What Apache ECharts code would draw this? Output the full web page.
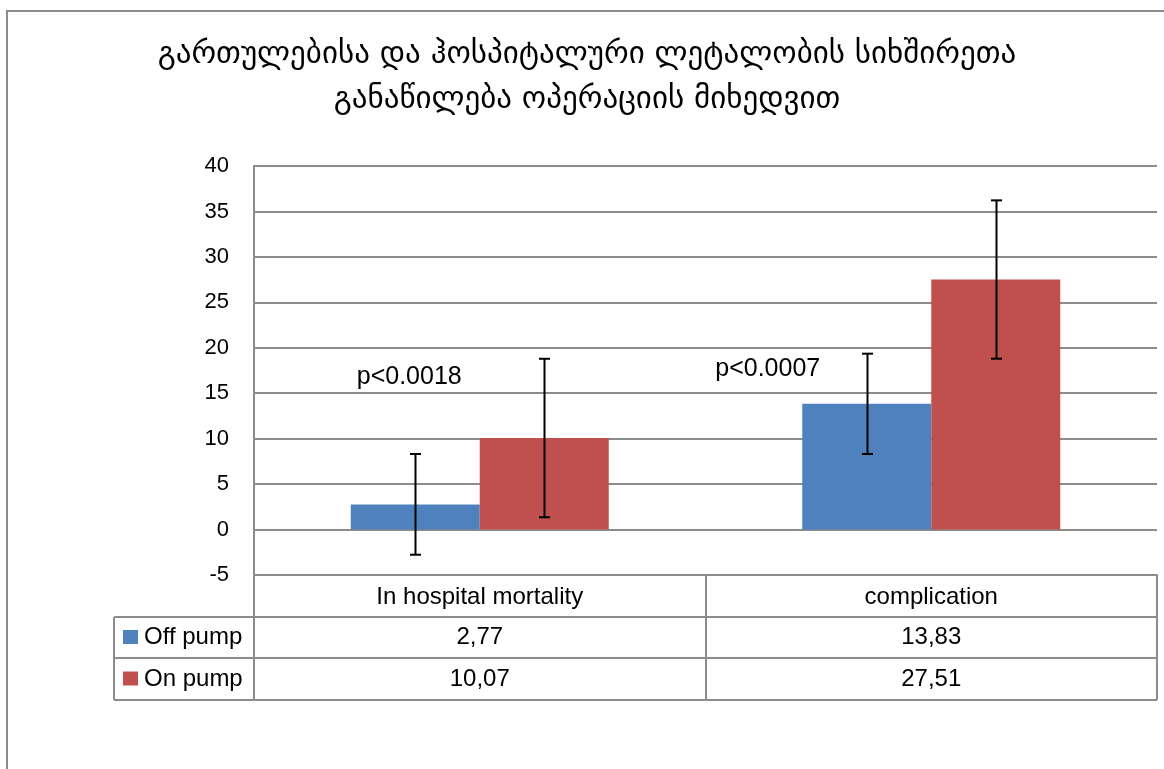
<!DOCTYPE html>
<html><head><meta charset="utf-8">
<script src="https://cdn.jsdelivr.net/npm/echarts@6/dist/echarts.min.js"></script>
<style>html,body{margin:0;padding:0;background:#fff}#c{width:1164px;height:769px}</style>
</head><body><div id="c"></div>
<script>
// ---- data ----
const titleLines = ['გართულებისა და ჰოსპიტალური ლეტალობის სიხშირეთა', 'განაწილება ოპერაციის მიხედვით'];
const categories = ['In hospital mortality', 'complication'];
const seriesNames = ['Off pump', 'On pump'];
const offPump = [2.77, 13.83];
const onPump = [10.07, 27.51];
const offPumpErr = [5.54, 5.52];
const onPumpErr = [8.72, 8.71];
const pValues = ['p<0.0018', 'p<0.0007'];
const yMin = -5, yMax = 40, yInterval = 5;

// ---- style / layout ----
const colors = ['#4F81BD', '#C0504D'];
const gridColor = '#8c8c8c';
const FONT = '"Liberation Sans", Arial, sans-serif';
const GAP = 0.4286;
const G = {left: 254, top: 166, right: 1157, bottom: 575};
const rowY = [575, 617, 658, 700];
const legendLeft = 114;

const chart = echarts.init(document.getElementById('c'));

function errRender(sign) {
  return function (params, api) {
    const cat = api.value(0), v = api.value(1), e = api.value(2);
    const band = api.size([1, 0])[0];
    const bw = band * (1 - GAP) / 2;
    const top = api.coord([cat, v + e]);
    const bot = api.coord([cat, v - e]);
    const x = Math.round(top[0] + sign * bw / 2) + 0.5;
    const cap = 5.5;
    const st = {stroke: '#000', lineWidth: 2};
    return {type: 'group', children: [
      {type: 'line', shape: {x1: x, y1: top[1], x2: x, y2: bot[1]}, style: st},
      {type: 'line', shape: {x1: x - cap, y1: top[1], x2: x + cap, y2: top[1]}, style: st},
      {type: 'line', shape: {x1: x - cap, y1: bot[1], x2: x + cap, y2: bot[1]}, style: st}
    ]};
  };
}

const option = {
  animation: false,
  backgroundColor: '#fff',
  grid: {left: G.left, top: G.top, width: G.right - G.left, height: G.bottom - G.top, containLabel: false},
  xAxis: {
    type: 'category', data: categories, position: 'bottom',
    axisLine: {show: true, onZero: false, lineStyle: {color: gridColor, width: 2}},
    axisTick: {show: true, length: rowY[3] - rowY[0], lineStyle: {color: gridColor, width: 2}},
    axisLabel: {fontFamily: FONT, fontSize: 24, color: '#000', margin: 10},
    splitLine: {show: false}
  },
  yAxis: {
    type: 'value', min: yMin, max: yMax, interval: yInterval,
    axisLine: {show: true, lineStyle: {color: gridColor, width: 2}},
    axisTick: {show: false},
    axisLabel: {fontFamily: FONT, fontSize: 22, color: '#000', margin: 25},
    splitLine: {show: true, lineStyle: {color: gridColor, width: 2}}
  },
  series: [
    {name: seriesNames[0], type: 'bar', data: offPump, barGap: '0%', barCategoryGap: (GAP * 100) + '%', itemStyle: {color: colors[0]}, z: 2},
    {name: seriesNames[1], type: 'bar', data: onPump, barGap: '0%', barCategoryGap: (GAP * 100) + '%', itemStyle: {color: colors[1]}, z: 2},
    {type: 'custom', renderItem: errRender(-1), data: offPump.map((v, i) => [i, v, offPumpErr[i]]), encode: {x: 0, y: 1}, z: 5, clip: false},
    {type: 'custom', renderItem: errRender(1), data: onPump.map((v, i) => [i, v, onPumpErr[i]]), encode: {x: 0, y: 1}, z: 5, clip: false}
  ]
};
chart.setOption(option);

// ---- graphics: title, table, annotations ----
const fmt = v => v.toFixed(2).replace('.', ',');
const graphics = [];
const lineSt = {stroke: gridColor, lineWidth: 2};
// outer chart frame
graphics.push({type: 'rect', shape: {x: 7, y: 11, width: 1300, height: 900}, style: {fill: null, stroke: '#8c8c8c', lineWidth: 2}, z: 0, silent: true});
// title
titleLines.forEach((t, i) => {
  graphics.push({type: 'text', x: 587, y: 55 + i * 45, style: {text: t, font: '31px "DejaVu Sans", "Noto Sans", sans-serif', fill: '#000', textAlign: 'center', textVerticalAlign: 'middle'}, z: 10});
});
// table lines
[rowY[1], rowY[2], rowY[3]].forEach(y => {
  graphics.push({type: 'line', shape: {x1: legendLeft, y1: y, x2: G.right, y2: y}, style: lineSt, z: 10});
});
graphics.push({type: 'line', shape: {x1: legendLeft, y1: rowY[1], x2: legendLeft, y2: rowY[3]}, style: lineSt, z: 10});
graphics.push({type: 'line', shape: {x1: G.right, y1: rowY[0], x2: G.right, y2: rowY[3]}, style: lineSt, z: 10});
// legend keys + values
const seriesVals = [offPump, onPump];
seriesNames.forEach((name, s) => {
  const cy = (rowY[s + 1] + rowY[s + 2]) / 2;
  graphics.push({type: 'rect', shape: {x: 123, y: cy - 7.5, width: 15, height: 14}, style: {fill: colors[s]}, z: 10});
  graphics.push({type: 'text', x: 144, y: cy, style: {text: name, font: '24px ' + FONT, fill: '#000', textVerticalAlign: 'middle'}, z: 10});
  seriesVals[s].forEach((v, i) => {
    const px = chart.convertToPixel({gridIndex: 0}, [i, 0])[0];
    graphics.push({type: 'text', x: px, y: cy, style: {text: fmt(v), font: '24px ' + FONT, fill: '#000', textAlign: 'center', textVerticalAlign: 'middle'}, z: 10});
  });
});
// p-value annotations anchored to data space
const pAnchor = [[0, 16.8, -123], [1, 17.7, -216]];
pValues.forEach((t, i) => {
  const p = chart.convertToPixel({gridIndex: 0}, [pAnchor[i][0], pAnchor[i][1]]);
  graphics.push({type: 'text', x: p[0] + pAnchor[i][2], y: p[1], style: {text: t, font: '25px ' + FONT, fill: '#000', textVerticalAlign: 'middle'}, z: 10});
});
chart.setOption({graphic: graphics});
</script>
</body></html>
